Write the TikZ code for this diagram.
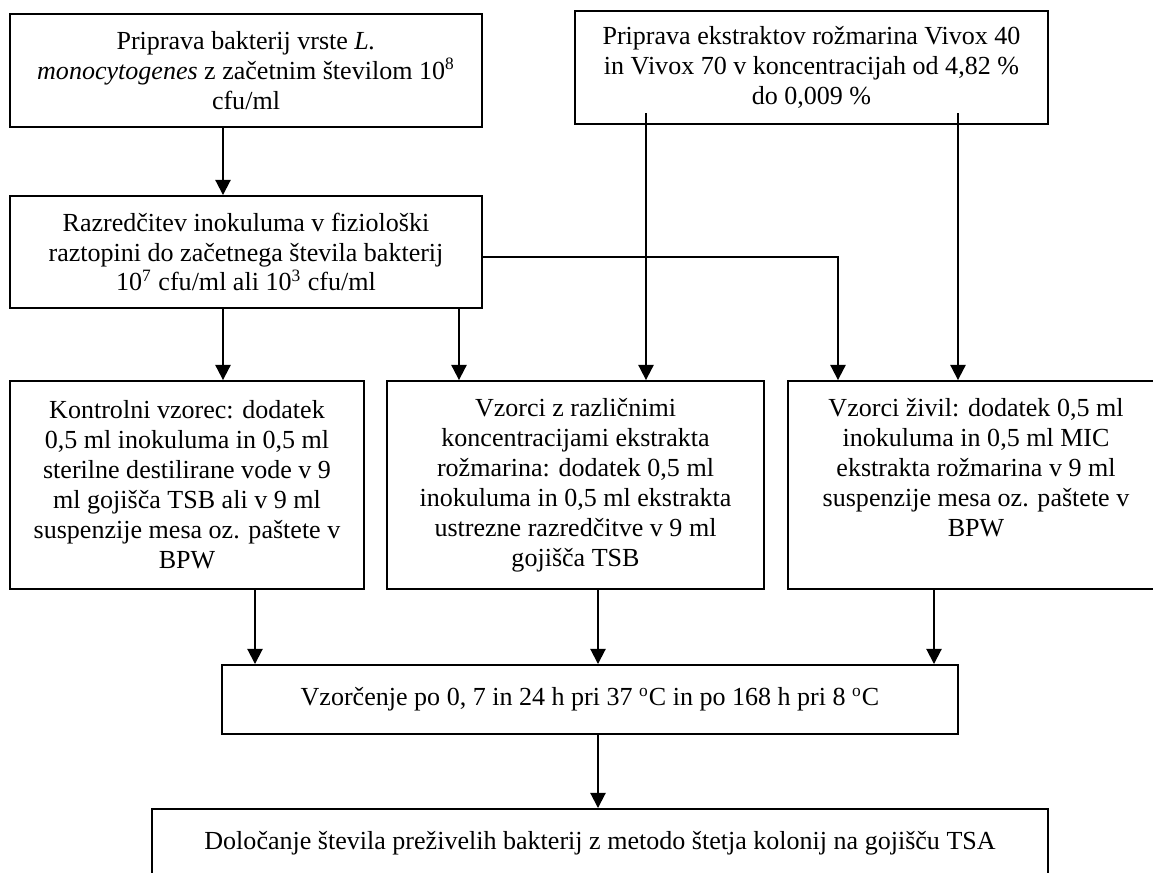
\documentclass[tikz,border=0pt]{standalone}
\usepackage{fontspec}
\setmainfont{Liberation Serif}
\usetikzlibrary{arrows.meta}
\tikzstyle{process} = [rectangle, draw=black, line width=0.9pt, align=center, inner sep=0pt, font=\fontsize{12}{13.8}\selectfont]
\tikzstyle{arrow} = [line width=0.9pt,-{Triangle[length=7pt,width=7pt]}]

\begin{document}
\begin{tikzpicture}[x=0.4608pt,y=-0.4608pt]
	\clip (0,0) rectangle (1153,872);
	\node (bakt) [process, minimum width=217.5pt, minimum height=52.1pt] at (246,70.5) {Priprava bakterij vrste \textit{L.}\\ \textit{monocytogenes} z začetnim številom 10\textsuperscript{8}\\ cfu/ml};
	\node (ekstr) [process, minimum width=218pt, minimum height=52.1pt] at (811.5,67.5) {Priprava ekstraktov rožmarina Vivox 40\\ in Vivox 70 v koncentracijah od 4,82 \%\\ do 0,009 \%};
	\node (razred) [process, minimum width=217.5pt, minimum height=51.6pt] at (246,252) {Razredčitev inokuluma v fiziološki\\ raztopini do začetnega števila bakterij\\ 10\textsuperscript{7} cfu/ml ali 10\textsuperscript{3} cfu/ml};
	\node (kontrola) [process, minimum width=163.1pt, minimum height=95.8pt] at (187,485) {Kontrolni vzorec: dodatek\\ 0,5 ml inokuluma in 0,5 ml\\ sterilne destilirane vode v 9\\ ml gojišča TSB ali v 9 ml\\ suspenzije mesa oz. paštete v\\ BPW};
	\node (konc) [process, minimum width=173.7pt, minimum height=95.8pt] at (575.5,485) {Vzorci z različnimi\\ koncentracijami ekstrakta\\ rožmarina: dodatek 0,5 ml\\ inokuluma in 0,5 ml ekstrakta\\ ustrezne razredčitve v 9 ml\\ gojišča TSB};
	\node (zivila) [process, minimum width=173.3pt, minimum height=95.8pt, text depth=16.4pt] at (976,485) {Vzorci živil: dodatek 0,5 ml\\ inokuluma in 0,5 ml MIC\\ ekstrakta rožmarina v 9 ml\\ suspenzije mesa oz. paštete v\\ BPW};
	\node (vzorc) [process, minimum width=339.2pt, minimum height=31.8pt] at (590,699.5) {Vzorčenje po 0, 7 in 24 h pri 37 \textsuperscript{o}C in po 168 h pri 8 \textsuperscript{o}C};
	\node (dolocanje) [process, minimum width=412.9pt, minimum height=31.8pt] at (600,843.5) {Določanje števila preživelih bakterij z metodo štetja kolonij na gojišču TSA};

	\coordinate (col1) at (223,0);
	\coordinate (col2) at (459,0);
	\coordinate (ekstr1) at (646,113);
	\coordinate (razredR) at (838,257);
	\coordinate (ekstr2) at (958,113);
	\coordinate (col6) at (255,0);
	\coordinate (col7) at (598,0);
	\coordinate (col8) at (934,0);

	\draw [arrow] (bakt.south -| col1) -- (razred.north -| col1);
	\draw [arrow] (razred.south -| col1) -- (kontrola.north -| col1);
	\draw [arrow] (razred.south -| col2) -- (konc.north -| col2);
	\draw [arrow] (razred.east |- razredR) -| (zivila.north -| razredR);
	\draw [arrow] (ekstr1) -- (konc.north -| ekstr1);
	\draw [arrow] (ekstr2) -- (zivila.north -| ekstr2);
	\draw [arrow] (kontrola.south -| col6) -- (vzorc.north -| col6);
	\draw [arrow] (konc.south -| col7) -- (vzorc.north -| col7);
	\draw [arrow] (zivila.south -| col8) -- (vzorc.north -| col8);
	\draw [arrow] (vzorc.south -| col7) -- (dolocanje.north -| col7);
\end{tikzpicture}
\end{document}
